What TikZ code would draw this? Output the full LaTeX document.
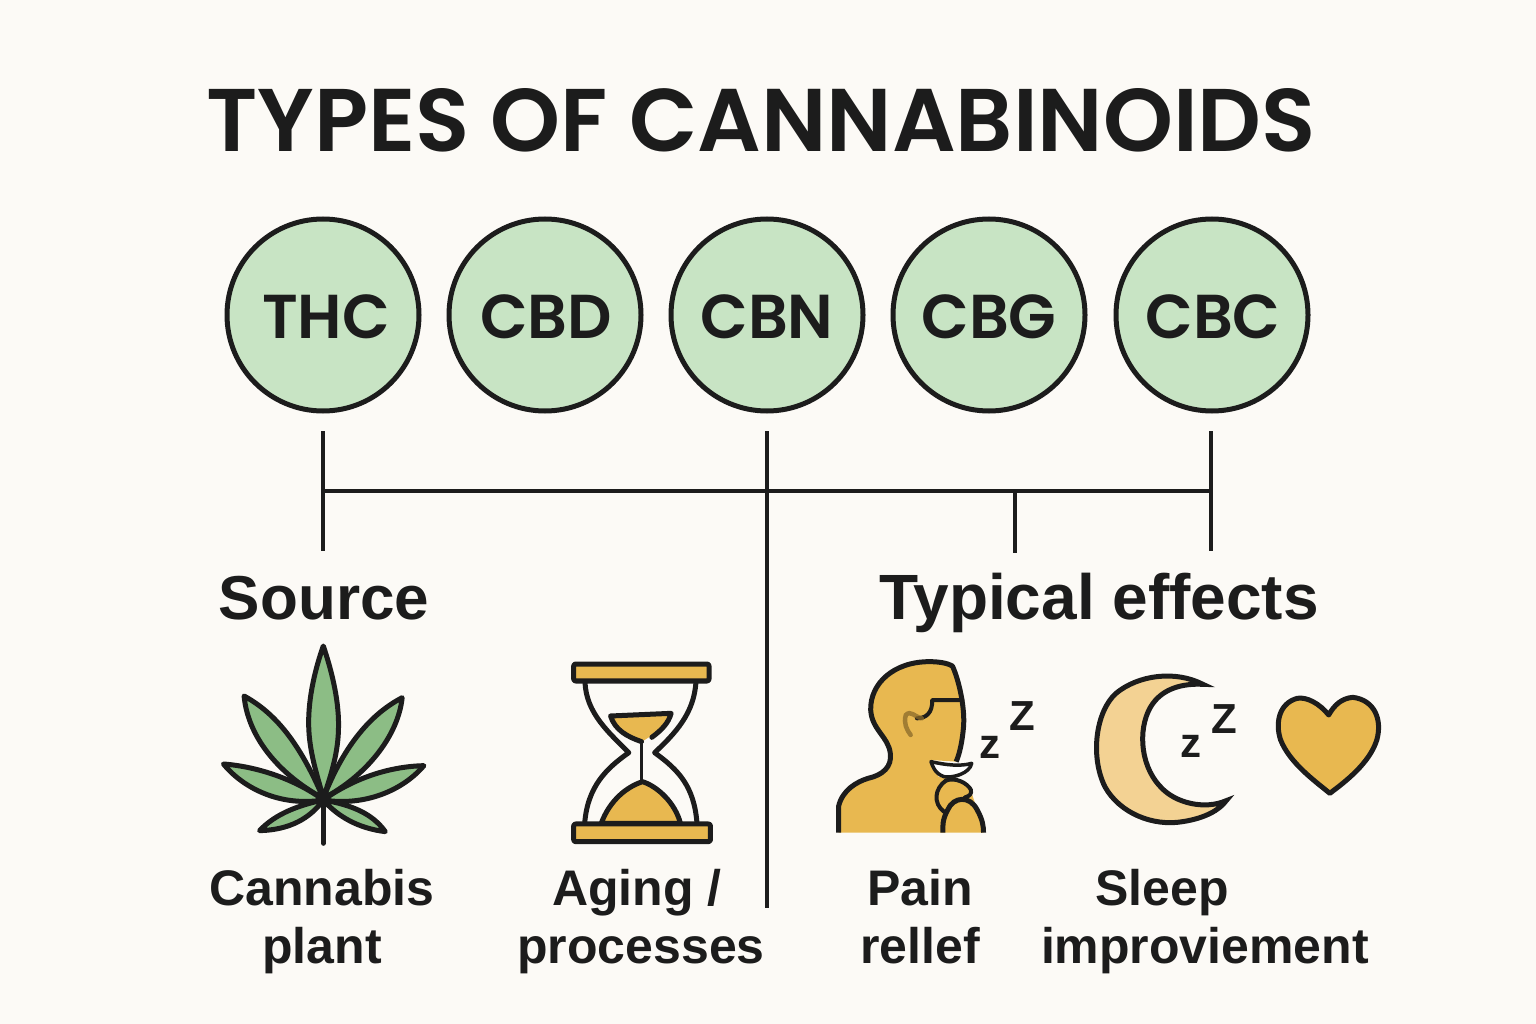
\documentclass[tikz,border=0pt]{standalone}
\usepackage{fontspec}
\setmainfont{Liberation Sans}
\newfontfamily\titlefont{Poppins SemiBold}
\definecolor{bgc}{HTML}{FCFAF6}
\definecolor{ink}{HTML}{1C1C1C}
\definecolor{mint}{HTML}{C8E4C4}
\definecolor{leafg}{HTML}{8CBD85}
\definecolor{gold}{HTML}{E8B850}
\definecolor{pale}{HTML}{F3D293}
\definecolor{smudge}{HTML}{8A6A2A}
\tikzset{
  x=1pt,y=-1pt,
  circ/.style={circle,draw=ink,fill=mint,line width=5pt,minimum size=192pt,inner sep=0pt},
  circlab/.style={text=ink,font=\titlefont\fontsize{62}{62}\selectfont,inner sep=0pt,anchor=base},
  conn/.style={draw=ink,line width=4pt},
  lab/.style={text=ink,font=\fontsize{50}{50}\selectfont\bfseries,inner sep=0pt,anchor=base},
  head/.style={text=ink,font=\fontsize{62}{62}\selectfont\bfseries,inner sep=0pt,anchor=base},
  snore/.style={text=ink,font=\fontsize{42}{42}\selectfont\bfseries,inner sep=0pt,anchor=base},
  ic/.style={draw=ink,line width=5pt,line join=round,line cap=round},
}
\begin{document}
\begin{tikzpicture}
\fill[bgc] (0,0) rectangle (1536,1024);
\useasboundingbox (0,0) rectangle (1536,1024);
\node[text=ink,inner sep=0pt,font=\titlefont\fontsize{89}{89}\selectfont] (title) at (761,120) {TYPES OF CANNABINOIDS};
\node[circ] (thc) at (323,315) {};
\node[circ] (cbd) at (545,315) {};
\node[circ] (cbn) at (767,315) {};
\node[circ] (cbg) at (989,315) {};
\node[circ] (cbc) at (1212,315) {};
\node[circlab] (tthc) at (326,338) {THC};
\node[circlab] (tcbd) at (546,338) {CBD};
\node[circlab] (tcbn) at (767,338) {CBN};
\node[circlab] (tcbg) at (989,338) {CBG};
\node[circlab] (tcbc) at (1213,338) {CBC};
% connectors
\coordinate (a1) at (323,431); \coordinate (a2) at (323,551);
\coordinate (b1) at (767,431); \coordinate (b2) at (767,908);
\coordinate (c1) at (1211,431); \coordinate (c2) at (1211,551);
\coordinate (d1) at (1015,491); \coordinate (d2) at (1015,553);
\coordinate (h1) at (323,491); \coordinate (h2) at (1211,491);
\draw[conn] (a1) -- (a2);
\draw[conn] (b1) -- (b2);
\draw[conn] (c1) -- (c2);
\draw[conn] (d1) -- (d2);
\draw[conn] (h1) -- (h2);
% headings
\node[head] (src) at (324,619) {Source};
\node[head,font=\fontsize{64}{64}\selectfont\bfseries] (eff) at (1099,619) {Typical effects};
% labels
\node[lab] (l1a) at (322,905) {Cannabis};
\node[lab] (l1b) at (322,963) {plant};
\node[lab] (l2a) at (637,905) {Aging /};
\node[lab] (l2b) at (641,963) {processes};
\node[lab] (l3a) at (920,905) {Pain};
\node[lab] (l3b) at (920,963) {rellef};
\node[lab] (l4a) at (1162,905) {Sleep};
\node[lab] (l4b) at (1205,963) {improviement};
% leaf
\begin{scope}[shift={(200,630)},xscale=0.3444,yscale=0.3333]
\foreach \p in {
 {(128,198) .. controls (220,250) and (290,340) .. (358,505) .. controls (240,440) and (140,330) .. (128,198)},
 {(587,203) .. controls (500,250) and (420,340) .. (358,505) .. controls (480,440) and (575,320) .. (587,203)},
 {(68,402) .. controls (170,410) and (280,450) .. (358,510) .. controls (240,530) and (130,480) .. (68,402)},
 {(650,407) .. controls (540,410) and (440,450) .. (358,510) .. controls (480,530) and (590,480) .. (650,407)},
 {(173,602) .. controls (220,550) and (290,525) .. (358,510) .. controls (320,565) and (260,600) .. (173,602)},
 {(538,605) .. controls (500,550) and (440,525) .. (358,510) .. controls (400,560) and (460,595) .. (538,605)},
 {(358,48) .. controls (330,130) and (312,220) .. (316,300) .. controls (320,380) and (345,450) .. (358,505) .. controls (375,450) and (400,380) .. (402,300) .. controls (405,220) and (385,130) .. (358,48)}
}{ \filldraw[ic,fill=leafg] \p -- cycle; }
\draw[ic] (358,510) -- (358,640);
\end{scope}
% hourglass
\begin{scope}[shift={(200,630)},xscale=0.3444,yscale=0.3333]
\draw[ic] (1118,155) .. controls (1120,250) and (1190,310) .. (1245,368) .. controls (1180,415) and (1125,470) .. (1117,580);
\draw[ic] (1440,155) .. controls (1435,250) and (1380,310) .. (1320,368) .. controls (1390,420) and (1435,470) .. (1443,580);
\fill[gold] (1192,258) -- (1368,250) .. controls (1350,290) and (1310,320) .. (1282,335) .. controls (1240,320) and (1205,300) .. (1192,258) -- cycle;
\draw[ic] (1312,322) .. controls (1340,300) and (1360,280) .. (1368,250) -- (1192,258) .. controls (1205,300) and (1240,320) .. (1282,335);
\draw[ic,line width=3.5pt] (1282,335) -- (1282,450);
\filldraw[ic,fill=gold] (1165,580) .. controls (1190,510) and (1240,470) .. (1285,455) .. controls (1330,470) and (1380,520) .. (1395,580) -- cycle;
\filldraw[ic,fill=gold,rounded corners=2pt] (1085,102) rectangle (1478,153);
\filldraw[ic,fill=gold,rounded corners=2pt] (1085,582) rectangle (1482,635);
\end{scope}
% person
\begin{scope}[shift={(820,650)},xscale=0.36996,yscale=0.3333]
\fill[gold] (50,548) -- (50,470) .. controls (60,420) and (100,395) .. (130,385) .. controls (170,375) and (195,350) .. (190,310) .. controls (185,260) and (140,240) .. (137,180) .. controls (135,100) and (200,35) .. (295,35) .. controls (325,35) and (345,40) .. (358,48) .. controls (375,90) and (392,170) .. (388,230) .. controls (385,270) and (378,310) .. (368,335) -- (300,330) -- (320,380) -- (400,400) -- (410,430) -- (425,480) -- (440,510) -- (442,548) -- cycle;
\draw[ic,line cap=butt] (50,548) -- (50,470) .. controls (60,420) and (100,395) .. (130,385) .. controls (170,375) and (195,350) .. (190,310) .. controls (185,260) and (140,240) .. (137,180) .. controls (135,100) and (200,35) .. (295,35) .. controls (325,35) and (345,40) .. (358,48) .. controls (375,90) and (392,170) .. (388,230) .. controls (385,270) and (378,310) .. (368,335);
\filldraw[ic,fill=white,line width=3.5pt] (300,335) .. controls (340,345) and (380,350) .. (410,340) .. controls (405,370) and (360,385) .. (335,380) .. controls (310,370) and (305,350) .. (300,335) -- cycle;
\draw[ic,line width=4pt] (340,392) .. controls (310,415) and (305,460) .. (335,485);
\draw[ic,line width=4pt] (340,392) .. controls (365,380) and (400,400) .. (408,420) .. controls (410,432) and (405,438) .. (392,442);
\draw[ic,line cap=butt] (332,548) .. controls (332,530) and (330,510) .. (345,480) .. controls (360,440) and (405,435) .. (425,480) .. controls (440,510) and (442,530) .. (442,548);
\draw[ic,line width=4pt] (385,150) -- (303,150) .. controls (305,190) and (285,205) .. (262,205);
\draw[smudge,line width=4.5pt,line cap=round,opacity=.75] (275,205) .. controls (255,200) and (245,180) .. (232,195) .. controls (225,220) and (235,240) .. (245,255);
\end{scope}
\node[snore] (z1) at (990,758) {z};
\node[snore] (z2) at (1022,730) {Z};
% moon
\begin{scope}[shift={(820,650)},xscale=0.36996,yscale=0.3333]
\filldraw[ic,fill=pale,line join=miter,miter limit=10] (1035,103) .. controls (960,60) and (860,75) .. (800,130) .. controls (745,185) and (730,320) .. (770,410) .. controls (810,490) and (900,530) .. (980,515) .. controls (1040,505) and (1080,480) .. (1098,452) .. controls (1040,480) and (960,460) .. (920,410) .. controls (860,340) and (860,220) .. (900,160) .. controls (930,115) and (980,100) .. (1035,103) -- cycle;
\filldraw[ic,fill=gold] (1375,195) .. controls (1350,160) and (1315,140) .. (1290,145) .. controls (1240,160) and (1230,220) .. (1245,270) .. controls (1270,340) and (1340,395) .. (1378,430) .. controls (1420,395) and (1485,340) .. (1505,270) .. controls (1520,210) and (1500,150) .. (1440,142) .. controls (1410,145) and (1390,165) .. (1375,195) -- cycle;
\end{scope}
\node[snore] (z3) at (1191,757) {z};
\node[snore] (z4) at (1224,733) {Z};
\end{tikzpicture}
\end{document}
